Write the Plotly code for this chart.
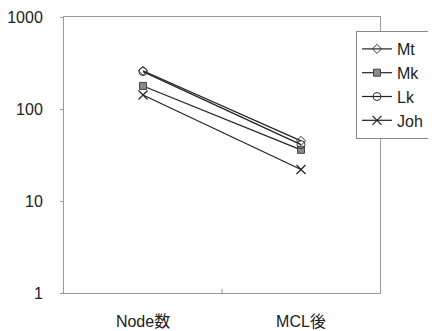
import plotly.graph_objects as go

categories = ["Node数", "MCL後"]
series_names = ["Mt", "Mk", "Lk", "Joh"]
mt = [260, 45]
mk = [178, 36]
lk = [255, 41]
joh = [142, 22]
values = [mt, mk, lk, joh]
y_ticks = [1, 10, 100, 1000]
y_tick_labels = ["1", "10", "100", "1000"]

markers = [
    dict(symbol="diamond-open", size=7, color="#333333", line=dict(width=1)),
    dict(symbol="square", size=7, color="#8a8a8a", line=dict(width=1, color="#444444")),
    dict(symbol="circle-open", size=8, color="#333333", line=dict(width=1)),
    dict(symbol="x-thin-open", size=9, color="#222222", line=dict(width=1.2)),
]

fig = go.Figure()
for name, vals, mk_style in zip(series_names, values, markers):
    fig.add_trace(go.Scatter(
        x=[0, 1], y=vals, name=name, mode="lines+markers",
        line=dict(color="#222222", width=1.2),
        marker=mk_style,
    ))

# page body has an 8px margin, so the figure is 8px smaller and shifted
W, H = 428, 323
font_family = "Liberation Sans, Noto Sans CJK JP, sans-serif"
fig.update_layout(
    width=W, height=H,
    margin=dict(l=56, r=56, t=9, b=38, autoexpand=False),
    paper_bgcolor="white", plot_bgcolor="white",
    font=dict(family=font_family, size=15, color="#222222"),
    showlegend=True,
    legend=dict(
        xref="container", yref="container",
        x=(356 - 8) / W, xanchor="left", y=1 - (31 - 8) / H, yanchor="top",
        bordercolor="#888888", borderwidth=1, bgcolor="white",
        font=dict(size=16), tracegroupgap=0, itemwidth=30,
    ),
    xaxis=dict(
        range=[-0.5, 1.5], tickmode="array", tickvals=[0, 1], ticktext=categories,
        showgrid=False, zeroline=False, showline=True, mirror=True, automargin=False,
        linecolor="#999999", linewidth=1, ticks="", ticklabelstandoff=14,
        tickfont=dict(size=16),
    ),
    yaxis=dict(
        type="log", range=[0, 3], tickmode="array", tickvals=y_ticks, ticktext=y_tick_labels,
        showgrid=False, zeroline=False, showline=True, mirror=True, automargin=False,
        linecolor="#999999", linewidth=1, ticks="outside", ticklen=3, tickcolor="#999999",
        tickfont=dict(size=16), ticklabelstandoff=14,
    ),
)
fig.add_shape(type="line", xref="x", yref="paper", x0=0.5, x1=0.5, y0=0, y1=0.015,
              line=dict(color="#999999", width=1))

fig.write_html("out.html")
